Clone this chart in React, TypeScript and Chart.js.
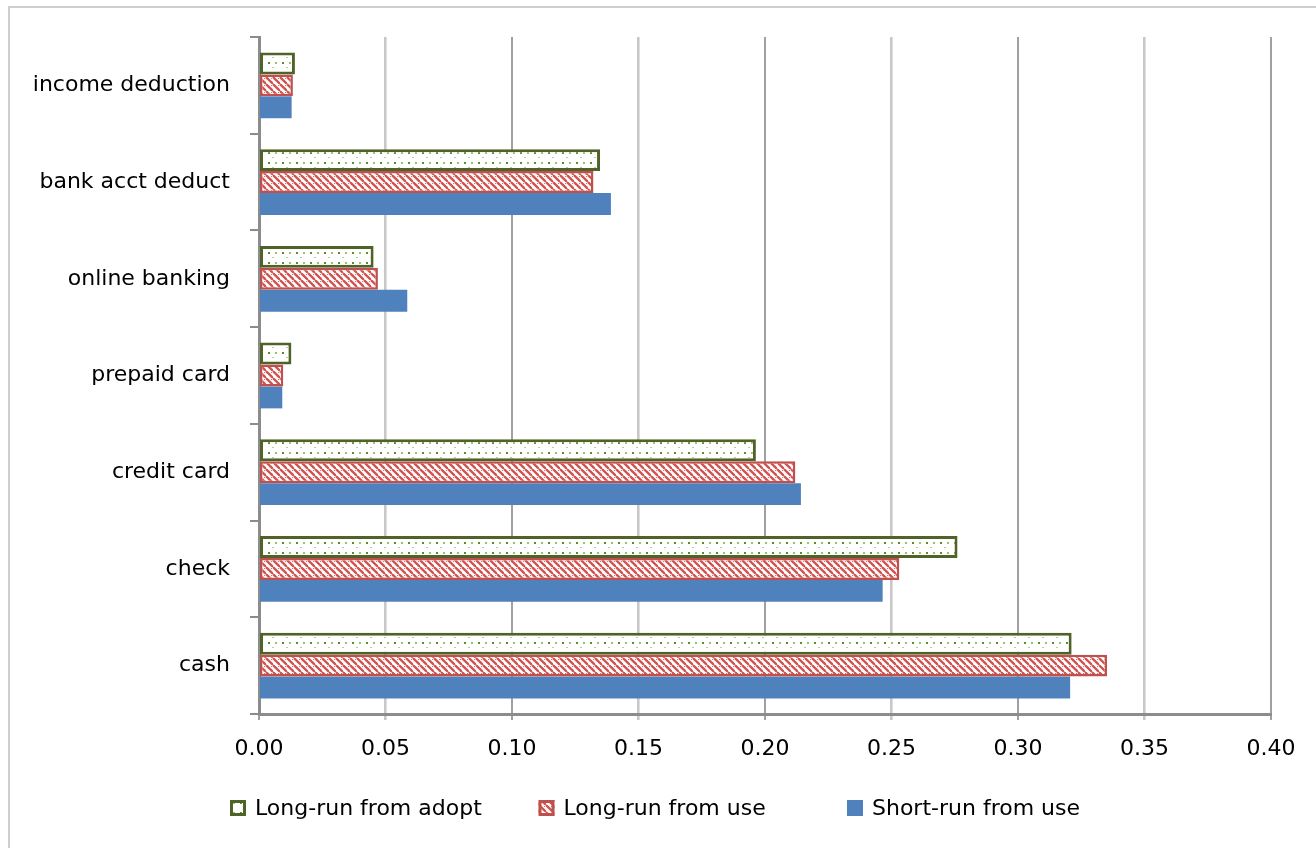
import React, { useEffect, useRef } from "react";
import { Chart, registerables } from "chart.js";

Chart.register(...registerables);

// Payment methods, listed top to bottom
const categories = [
  "income deduction",
  "bank acct deduct",
  "online banking",
  "prepaid card",
  "credit card",
  "check",
  "cash",
];

const seriesNames = ["Long-run from adopt", "Long-run from use", "Short-run from use"];

const longRunFromAdopt = [0.0142, 0.1348, 0.0453, 0.0128, 0.1964, 0.2761, 0.3212];
const longRunFromUse = [0.0134, 0.1322, 0.047, 0.0096, 0.212, 0.2531, 0.3352];
const shortRunFromUse = [0.0129, 0.1391, 0.0586, 0.0092, 0.2142, 0.2465, 0.3206];

const xTickValues = [0, 0.05, 0.1, 0.15, 0.2, 0.25, 0.3, 0.35, 0.4];

const FONT_FAMILY = "'DejaVu Sans', 'Liberation Sans', sans-serif";
const FONT_SIZE = 22;

const GREEN_BORDER = "#4f6228";
const RED_BORDER = "#c0504d";
const BLUE_FILL = "#4f81bd";

function makeDotPattern(ctx: CanvasRenderingContext2D): CanvasPattern | string {
  const c = document.createElement("canvas");
  c.width = 14;
  c.height = 10;
  const g = c.getContext("2d");
  if (!g) return "#ffffff";
  g.fillStyle = "#ffffff";
  g.fillRect(0, 0, 14, 10);
  g.fillStyle = "#5e8a2c";
  g.fillRect(2, 2, 2, 2);
  g.fillStyle = "#9dbd6a";
  g.fillRect(9, 2, 2, 2);
  g.fillStyle = "#b5cd8e";
  g.fillRect(6, 7, 2, 1);
  return ctx.createPattern(c, "repeat") || "#ffffff";
}

function makeHatchPattern(ctx: CanvasRenderingContext2D): CanvasPattern | string {
  const c = document.createElement("canvas");
  c.width = 7;
  c.height = 7;
  const g = c.getContext("2d");
  if (!g) return RED_BORDER;
  g.fillStyle = "#ffffff";
  g.fillRect(0, 0, 7, 7);
  g.strokeStyle = "#cf5451";
  g.lineWidth = 2.3;
  for (const off of [-7, 0, 7]) {
    g.beginPath();
    g.moveTo(off, 0);
    g.lineTo(off + 7, 7);
    g.stroke();
  }
  g.fillStyle = "#d9716f";
  g.fillRect(5, 1, 1, 1);
  return ctx.createPattern(c, "repeat") || RED_BORDER;
}

// Legend drawn as three equal-width columns below the axis
const legendPlugin = {
  id: "columnLegend",
  afterDraw(chart: any) {
    const ctx: CanvasRenderingContext2D = chart.ctx;
    const startX = 230;
    const colWidth = 308.5;
    const cy = 808;
    const box = 16;
    ctx.save();
    chart.data.datasets.forEach((ds: any, i: number) => {
      const x = startX + i * colWidth;
      const y = cy - box / 2;
      ctx.fillStyle = ds.backgroundColor;
      ctx.fillRect(x, y, box, box);
      if (ds.borderWidth > 0) {
        ctx.strokeStyle = ds.borderColor;
        ctx.lineWidth = 3;
        ctx.strokeRect(x + 1.5, y + 1.5, box - 3, box - 3);
      }
      ctx.fillStyle = "#000";
      ctx.font = `${FONT_SIZE}px ${FONT_FAMILY}`;
      ctx.textAlign = "left";
      ctx.textBaseline = "middle";
      ctx.fillText(ds.label, x + 25, cy + 1);
    });
    ctx.restore();
  },
};

export default function App() {
  const canvasRef = useRef<HTMLCanvasElement | null>(null);

  useEffect(() => {
    const canvas = canvasRef.current;
    if (!canvas) return;
    const ctx = canvas.getContext("2d");
    if (!ctx) return;

    const dots = makeDotPattern(ctx);
    const hatch = makeHatchPattern(ctx);
    const font = { family: FONT_FAMILY, size: FONT_SIZE };

    const chart = new Chart(ctx, {
      type: "bar",
      data: {
        labels: categories,
        datasets: [
          {
            label: seriesNames[0],
            data: longRunFromAdopt,
            backgroundColor: dots as any,
            borderColor: GREEN_BORDER,
            borderWidth: 3,
            borderSkipped: false,
          },
          {
            label: seriesNames[1],
            data: longRunFromUse,
            backgroundColor: hatch as any,
            borderColor: RED_BORDER,
            borderWidth: 2.5,
            borderSkipped: false,
          },
          {
            label: seriesNames[2],
            data: shortRunFromUse,
            backgroundColor: BLUE_FILL,
            borderWidth: 0,
          },
        ],
      },
      options: {
        indexAxis: "y",
        animation: false,
        responsive: false,
        maintainAspectRatio: false,
        layout: { padding: { left: 20, top: 37, right: 45, bottom: 74 } },
        datasets: { bar: { categoryPercentage: 0.68, barPercentage: 1 } },
        plugins: {
          legend: { display: false },
          tooltip: { enabled: false },
        },
        scales: {
          x: {
            type: "linear",
            min: 0,
            max: 0.4,
            afterBuildTicks: (scale: any) => {
              scale.ticks = xTickValues.map((v) => ({ value: v }));
            },
            ticks: {
              font,
              color: "#000",
              padding: 16,
              callback: (v: any) => Number(v).toFixed(2),
            },
            grid: {
              color: (c: any) =>
                c.tick && Math.round(c.tick.value * 100) % 10 === 0 ? "#a0a0a0" : "#c8c8c8",
              lineWidth: (c: any) =>
                c.tick && Math.round(c.tick.value * 100) % 10 === 0 ? 2 : 2.6,
              tickLength: 6,
            },
            border: { color: "#8c8c8c", width: 3 },
            afterFit: (scale: any) => {
              scale.height = 60;
            },
          },
          y: {
            type: "category",
            ticks: { font, color: "#000", padding: 20 },
            grid: {
              drawOnChartArea: false,
              tickLength: 9,
              color: "#8c8c8c",
              lineWidth: 2,
              offset: true,
            },
            border: { color: "#8c8c8c", width: 3 },
            afterFit: (scale: any) => {
              scale.width = 239;
            },
          },
        },
      } as any,
      plugins: [legendPlugin],
    });

    return () => chart.destroy();
  }, []);

  return (
    <div
      style={{
        position: "fixed",
        left: 0,
        top: 0,
        width: 1316,
        height: 848,
        overflow: "hidden",
        background: "#fff",
      }}
    >
      <div
        style={{
          position: "absolute",
          left: 8,
          top: 6,
          width: 1330,
          height: 870,
          border: "2px solid #cfcfcf",
          boxSizing: "border-box",
        }}
      />
      <canvas
        ref={canvasRef}
        width={1316}
        height={848}
        style={{ position: "absolute", left: 0, top: 0, width: 1316, height: 848 }}
      />
    </div>
  );
}
